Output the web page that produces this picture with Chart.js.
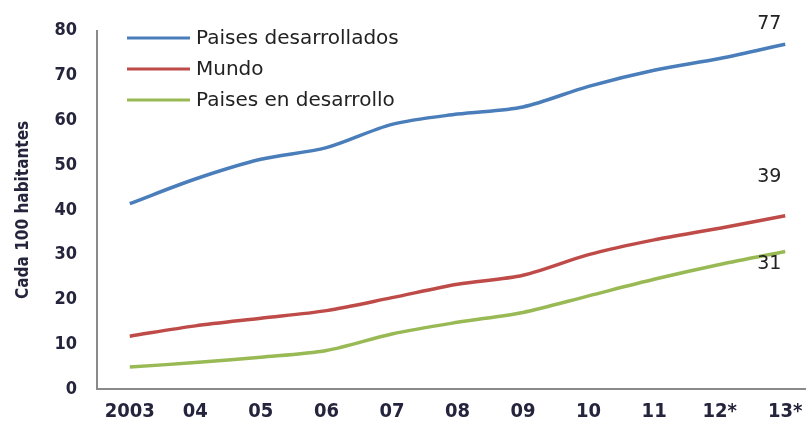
<!DOCTYPE html>
<html>
<head>
<meta charset="utf-8">
<script src="https://cdn.jsdelivr.net/npm/chart.js@4"></script>
<style>
  html, body { margin: 0; padding: 0; background: #fff; overflow: hidden; }
  #wrap { position: relative; width: 818px; height: 421px; }
</style>
</head>
<body>
<div id="wrap"><canvas id="linea"></canvas></div>
<script>
/* Usuarios por cada 100 habitantes */
const years = ['2003', '04', '05', '06', '07', '08', '09', '10', '11', '12*', '13*'];
const desarrollados = [41.4, 46.9, 51.3, 53.9, 59.1, 61.4, 63.0, 67.6, 71.2, 73.8, 77.0];
const mundo = [11.8, 14.1, 15.8, 17.5, 20.4, 23.4, 25.4, 30.0, 33.3, 35.9, 38.7];
const enDesarrollo = [4.9, 5.9, 7.1, 8.6, 12.3, 14.9, 17.1, 20.8, 24.5, 27.8, 30.7];
const endLabels = ['77', '39', '31'];
const yTicks = [0, 10, 20, 30, 40, 50, 60, 70, 80];

const condensada = "'DejaVu Sans Condensed', sans-serif";
const textColor = '#24243c';

// leyenda dentro del area, arriba a la izquierda
const leyenda = {
  id: 'leyenda',
  afterDraw(chart) {
    const ctx = chart.ctx;
    const x0 = chart.chartArea.left + 30;
    ctx.save();
    ctx.font = "20px 'DejaVu Sans', sans-serif";
    ctx.textBaseline = 'middle';
    chart.data.datasets.forEach((ds, i) => {
      const y = 38 + i * 31;
      ctx.strokeStyle = ds.borderColor;
      ctx.lineWidth = 3;
      ctx.beginPath();
      ctx.moveTo(x0, y);
      ctx.lineTo(x0 + 63, y);
      ctx.stroke();
      ctx.fillStyle = '#222';
      ctx.fillText(ds.label, x0 + 69, y + 1);
    });
    ctx.restore();
  }
};

// valor final de cada serie
const valoresFinales = {
  id: 'valoresFinales',
  afterDatasetsDraw(chart) {
    const ctx = chart.ctx;
    ctx.save();
    ctx.font = "19px 'DejaVu Sans', sans-serif";
    ctx.fillStyle = '#222';
    ctx.textAlign = 'center';
    ctx.textBaseline = 'middle';
    const offs = [-20, -39, 13];
    chart.data.datasets.forEach((ds, i) => {
      const pts = chart.getDatasetMeta(i).data;
      const p = pts[pts.length - 1];
      ctx.fillText(endLabels[i], p.x - 16, p.y + offs[i]);
    });
    ctx.restore();
  }
};

new Chart(document.getElementById('linea'), {
  type: 'line',
  data: {
    labels: years,
    datasets: [
      { label: 'Paises desarrollados', data: desarrollados, borderColor: '#4a7ebb' },
      { label: 'Mundo', data: mundo, borderColor: '#be4b48' },
      { label: 'Paises en desarrollo', data: enDesarrollo, borderColor: '#98b954' }
    ]
  },
  options: {
    responsive: true,
    maintainAspectRatio: false,
    animation: false,
    layout: { padding: { top: 27, left: 0, right: 0, bottom: 0 } },
    elements: {
      line: { borderWidth: 3.5, tension: 0.3, fill: false },
      point: { radius: 0 }
    },
    plugins: {
      legend: { display: false },
      tooltip: { enabled: false }
    },
    scales: {
      x: {
        offset: true,
        grid: { display: false, drawTicks: false },
        border: { color: '#8a8a8a', width: 2 },
        ticks: { font: { family: condensada, size: 20, weight: 'bold' }, color: textColor, padding: 11, autoSkip: false, maxRotation: 0 },
        afterFit(scale) { scale.height = 32; }
      },
      y: {
        min: 0,
        max: 80,
        afterBuildTicks(scale) { scale.ticks = yTicks.map(v => ({ value: v })); },
        grid: { display: false, drawTicks: false },
        border: { color: '#8a8a8a', width: 2 },
        ticks: { font: { family: condensada, size: 18, weight: 'bold' }, color: textColor, padding: 20 },
        title: {
          display: true,
          text: 'Cada 100 habitantes',
          font: { family: condensada, size: 17, weight: 'bold' },
          color: textColor,
          padding: { top: 13, bottom: 0 }
        },
        afterFit(scale) { scale.width = 97; }
      }
    }
  },
  plugins: [leyenda, valoresFinales]
});
</script>
</body>
</html>
